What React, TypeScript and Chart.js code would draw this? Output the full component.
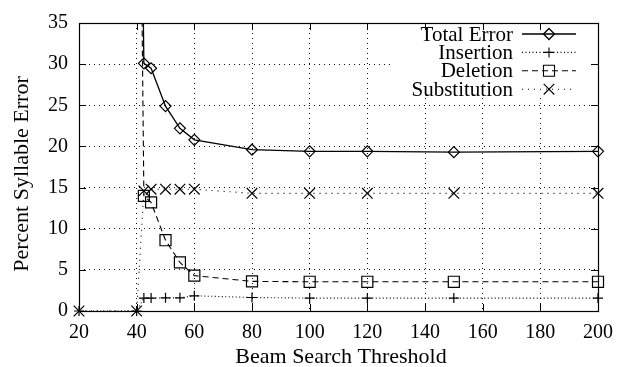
import React, { useEffect, useRef } from "react";
import { Chart, registerables } from "chart.js";

Chart.register(...registerables);

// ---- data ----
const thresholds = [20, 40, 42.5, 45, 50, 55, 60, 80, 100, 120, 150, 200];
const totalError = [100, 100, 30.1, 29.5, 24.9, 22.2, 20.8, 19.6, 19.4, 19.4, 19.3, 19.4];
const insertion = [0, 0, 1.57, 1.57, 1.6, 1.6, 1.85, 1.64, 1.57, 1.57, 1.57, 1.57];
const deletion = [100, 100, 14.0, 13.2, 8.6, 5.9, 4.3, 3.6, 3.55, 3.55, 3.55, 3.55];
const substitution = [0, 0, 14.6, 14.8, 14.8, 14.8, 14.8, 14.3, 14.3, 14.3, 14.3, 14.3];
const seriesNames = ["Total Error", "Insertion", "Deletion", "Substitution"];
const xTicks = [20, 40, 60, 80, 100, 120, 140, 160, 180, 200];
const yTicks = [0, 5, 10, 15, 20, 25, 30, 35];
const xTitle = "Beam Search Threshold";
const yTitle = "Percent Syllable Error";

const FONT = "'Liberation Serif', 'Times New Roman', serif";

type Style = { dash: number[]; point: string; radius: number; width: number };
const styles: Style[] = [
  { dash: [], point: "rectRot", radius: 5.5, width: 1.3 },
  { dash: [1, 2.5], point: "cross", radius: 5, width: 1.1 },
  { dash: [6, 4], point: "rect", radius: 7.8, width: 1.1 },
  { dash: [1, 5], point: "crossRot", radius: 7.5, width: 1.1 },
];

function drawMarker(ctx: CanvasRenderingContext2D, kind: string, x: number, y: number, r: number) {
  ctx.beginPath();
  const s = r * Math.SQRT1_2;
  switch (kind) {
    case "rectRot":
      ctx.moveTo(x, y - r);
      ctx.lineTo(x + r, y);
      ctx.lineTo(x, y + r);
      ctx.lineTo(x - r, y);
      ctx.closePath();
      break;
    case "cross":
      ctx.moveTo(x - r, y);
      ctx.lineTo(x + r, y);
      ctx.moveTo(x, y - r);
      ctx.lineTo(x, y + r);
      break;
    case "rect":
      ctx.rect(x - s, y - s, 2 * s, 2 * s);
      break;
    case "crossRot":
      ctx.moveTo(x - s, y - s);
      ctx.lineTo(x + s, y + s);
      ctx.moveTo(x + s, y - s);
      ctx.lineTo(x - s, y + s);
      break;
  }
  ctx.stroke();
}

const framePlugin = {
  id: "gnuFrame",
  beforeDatasetsDraw(chart: any) {
    const { ctx, chartArea: a, scales } = chart;
    const xs = scales.x;
    const ys = scales.y;
    ctx.save();
    // key background (covers the grid)
    const keyLeft = 392;
    const keyTop = a.top + 1;
    const keyBottom = 97;
    ctx.fillStyle = "#fff";
    ctx.fillRect(keyLeft, keyTop, a.right - 1 - keyLeft, keyBottom - keyTop);

    // inward ticks
    ctx.strokeStyle = "#000";
    ctx.lineWidth = 1;
    ctx.setLineDash([]);
    ctx.beginPath();
    const tl = 7;
    xTicks.forEach((v) => {
      const px = Math.round(xs.getPixelForValue(v)) + 0.5;
      ctx.moveTo(px, a.bottom);
      ctx.lineTo(px, a.bottom - tl);
      ctx.moveTo(px, a.top);
      ctx.lineTo(px, a.top + tl);
    });
    yTicks.forEach((v) => {
      const py = Math.round(ys.getPixelForValue(v)) + 0.5;
      ctx.moveTo(a.left, py);
      ctx.lineTo(a.left + tl, py);
      ctx.moveTo(a.right, py);
      ctx.lineTo(a.right - tl, py);
    });
    ctx.stroke();

    // frame
    ctx.lineWidth = 1.2;
    ctx.strokeRect(Math.round(a.left) + 0.5, Math.round(a.top) + 0.5, Math.round(a.right - a.left), Math.round(a.bottom - a.top));
    ctx.restore();
  },
  afterDatasetsDraw(chart: any) {
    const { ctx } = chart;
    ctx.save();
    // key entries
    ctx.fillStyle = "#000";
    ctx.strokeStyle = "#000";
    ctx.font = `21px ${FONT}`;
    ctx.textAlign = "right";
    ctx.textBaseline = "middle";
    const rowY0 = 34;
    const rowH = 18.4;
    seriesNames.forEach((name, i) => {
      const y = rowY0 + i * rowH;
      ctx.fillText(name, 513, y + 1);
      const st = styles[i];
      ctx.lineWidth = st.width;
      ctx.setLineDash(st.dash);
      ctx.beginPath();
      ctx.moveTo(522, y);
      ctx.lineTo(576, y);
      ctx.stroke();
      ctx.setLineDash([]);
      drawMarker(ctx, st.point, 549, y, st.radius);
    });

    // axis titles
    ctx.font = `22px ${FONT}`;
    ctx.textAlign = "center";
    ctx.textBaseline = "middle";
    ctx.fillText(xTitle, 341, 357);
    ctx.save();
    ctx.translate(22, 174);
    ctx.rotate(-Math.PI / 2);
    ctx.fillText(yTitle, 0, 0);
    ctx.restore();

    ctx.restore();
  },
};

export default function App() {
  const ref = useRef<HTMLCanvasElement>(null);
  useEffect(() => {
    document.body.style.margin = "0";
    const seriesData = [totalError, insertion, deletion, substitution];
    const chart = new Chart(ref.current as HTMLCanvasElement, {
      type: "line",
      data: {
        datasets: seriesNames.map((name, i) => ({
          label: name,
          data: thresholds.map((t, j) => ({ x: t, y: seriesData[i][j] })),
          borderColor: "#000",
          borderWidth: styles[i].width,
          borderDash: styles[i].dash,
          pointStyle: styles[i].point as any,
          pointRadius: styles[i].radius,
          pointBorderColor: "#000",
          pointBackgroundColor: "rgba(0,0,0,0)",
          pointBorderWidth: 1.2,
          fill: false,
          tension: 0,
          clip: { left: 12, top: 0, right: 12, bottom: 12 } as any,
        })),
      },
      options: {
        animation: false,
        responsive: false,
        devicePixelRatio: 1,
        layout: { padding: { left: 0, top: 16, right: 30, bottom: 0 } },
        plugins: { legend: { display: false }, tooltip: { enabled: false } },
        scales: {
          x: {
            type: "linear",
            min: 20,
            max: 200,
            afterFit: (s: any) => {
              s.height = 56;
            },
            ticks: { stepSize: 20, color: "#000", font: { family: FONT, size: 20 }, padding: 10, maxRotation: 0 },
            grid: { color: "#111", lineWidth: 1, drawTicks: false },
            border: { display: false, dash: [1, 4] },
          },
          y: {
            type: "linear",
            min: 0,
            max: 35,
            afterFit: (s: any) => {
              s.width = 79;
            },
            ticks: { stepSize: 5, color: "#000", font: { family: FONT, size: 20 }, padding: 11 },
            grid: { color: "#111", lineWidth: 1, drawTicks: false },
            border: { display: false, dash: [1, 4] },
          },
        },
      },
      plugins: [framePlugin],
    });
    return () => chart.destroy();
  }, []);
  return (
    <div style={{ width: 628, height: 367 }}>
      <canvas ref={ref} width={628} height={367} style={{ display: "block" }} />
    </div>
  );
}
